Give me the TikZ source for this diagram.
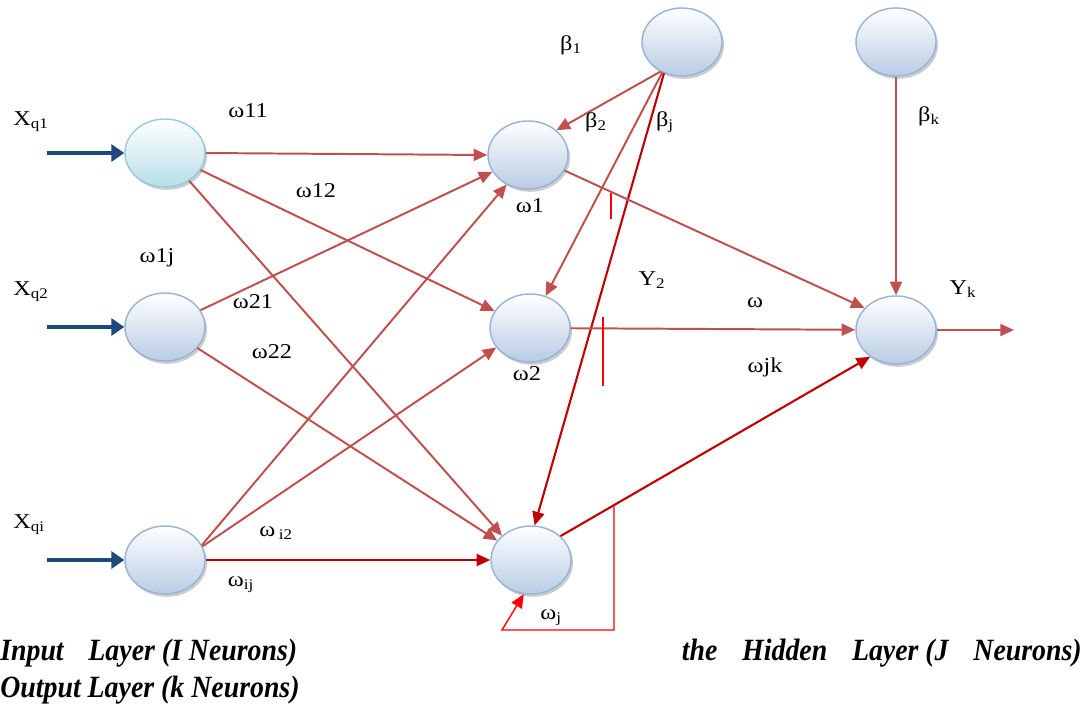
\documentclass[tikz,border=0pt]{standalone}
\usepackage{fontspec}
\setmainfont{Liberation Serif}[FakeStretch=1.15]
\newfontfamily\layerfont{Liberation Serif}[FakeStretch=0.9]
\usepackage{tikz}
\usepackage{xcolor}
\usetikzlibrary{shapes.geometric, arrows.meta, shadows}
\definecolor{nodefill}{RGB}{184,204,228}
\definecolor{nodeborder}{RGB}{149,179,215}
\definecolor{cyanfill}{RGB}{183,222,232}
\definecolor{cyanborder}{RGB}{146,205,220}
\definecolor{wred}{RGB}{192,80,77}
\definecolor{jred}{RGB}{192,0,0}
\definecolor{fbred}{RGB}{255,0,0}
\definecolor{inblue}{RGB}{31,73,125}

\begin{document}
\begin{tikzpicture}[x=0.025cm, y=-0.025cm,
    neuron/.style={ellipse, draw=nodeborder, line width=1pt, top color=white, bottom color=nodefill,
        minimum width=2cm, minimum height=1.7cm, inner sep=0pt,
        drop shadow={shadow xshift=0.05cm, shadow yshift=-0.07cm, fill=black!40}},
    inneuron/.style={neuron, draw=cyanborder, bottom color=cyanfill},
    wline/.style={color=wred, line width=1.4pt, -{Triangle[length=3.4mm, width=3mm]}},
    jline/.style={wline, color=jred, line width=1.5pt},
    fbline/.style={color=fbred, line width=1pt},
    inarrow/.style={color=inblue, line width=2.8pt, -{Triangle[length=3.2mm, width=4.2mm]}},
    lab/.style={font=\fontsize{15}{17}\selectfont, inner sep=1pt},
    layer/.style={font=\fontsize{22}{24}\layerfont\bfseries\itshape, inner sep=0pt}]
    \useasboundingbox (0,0) rectangle (1088,706);

    % Input layer
    \node[inneuron] (I1) at (165,153) {};
    \node[neuron] (I2) at (165,327) {};
    \node[neuron] (I3) at (165,560) {};

    % Hidden layer
    \node[neuron] (H1) at (528,155) {};
    \node[neuron] (H2) at (530,328) {};
    \node[neuron] (H3) at (531,560) {};

    % Bias and output
    \node[neuron] (B1) at (682,42) {};
    \node[neuron] (Bk) at (896,42) {};
    \node[neuron] (O) at (896,330) {};

    % Free ends
    \coordinate (xq1) at (47,153);
    \coordinate (xq2) at (47,327);
    \coordinate (xq3) at (47,560);
    \coordinate (yout) at (1014,330);
    \coordinate (fb1) at (614,505);
    \coordinate (fb2) at (502,630);

    % Input arrows
    \draw[inarrow] (xq1) -- (I1.west);
    \draw[inarrow] (xq2) -- (I2.west);
    \draw[inarrow] (xq3) -- (I3.west);

    % Input -> hidden
    \draw[wline] (I1.east) -- (H1.west);
    \draw[wline] (I1) -- (H2);
    \draw[wline] (I1.311) -- (H3.140);
    \draw[wline] (I2) -- (H1);
    \draw[wline] (I2.327) -- (H3.150);
    \draw[wline] (I3.22) -- (H1.234);
    \draw[wline] (I3.20) -- (H2.210);
    \draw[jline] (I3.east) -- (H3.west);

    % Bias -> hidden
    \draw[wline] (B1.234) -- (H1.41);
    \draw[wline] (B1.237) -- (H2.64);
    \draw[jline] (B1.240) -- (H3.84);

    % Hidden -> output
    \draw[wline] (H1.337) -- (O.145);
    \draw[wline] (H2) -- (O);
    \draw[jline] (H3.39) -- (O.226);
    \draw[wline] (Bk) -- (O);
    \draw[wline] (O) -- (yout);

    % Feedback loop
    \draw[fbline, -{Triangle[length=3.4mm, width=3mm]}] (fb1) |- (fb2) -- (H3.258);

    % Ticks
    \draw[fbline] (611,193) -- (611,219);
    \draw[fbline] (603,317) -- (603,386);

    % Labels
    \node[lab] (lxq1) at (31,122) {X\textsubscript{q1}};
    \node[lab] (lxq2) at (31,292) {X\textsubscript{q2}};
    \node[lab] (lxqi) at (29,525) {X\textsubscript{qi}};
    \node[lab] (lw11) at (248,111) {ω11};
    \node[lab] (lw12) at (316,191) {ω12};
    \node[lab] (lw1j) at (157,258) {ω1j};
    \node[lab] (lw21) at (253,302) {ω21};
    \node[lab] (lw22) at (272,352) {ω22};
    \node[lab] (lwi2) at (276,533) {ω\,\textsubscript{i2}};
    \node[lab] (lwij) at (241,585) {ω\textsubscript{ij}};
    \node[lab] (lb1) at (571,45) {β\textsubscript{1}};
    \node[lab] (lb2) at (596,122) {β\textsubscript{2}};
    \node[lab] (lbj) at (665,122) {β\textsubscript{j}};
    \node[lab] (lw1) at (530,206) {ω1};
    \node[lab] (lw2) at (527,374) {ω2};
    \node[lab] (ly2) at (652,280) {Y\textsubscript{2}};
    \node[lab] (lw) at (755,303) {ω};
    \node[lab] (lwjk) at (765,367) {ωjk};
    \node[lab] (lwj) at (551,618) {ω\textsubscript{j}};
    \node[lab] (lbk) at (929,116) {β\textsubscript{k}};
    \node[lab] (lyk) at (963,289) {Y\textsubscript{k}};

    % Layer names
    \node[layer, anchor=base west] (linput) at (0,660) {Input\hspace{0.8em}Layer (I Neurons)};
    \node[layer, anchor=base west] (loutput) at (0,697) {Output Layer (k Neurons)};
    \node[layer, anchor=base east] (lhidden) at (1082,660) {the\hspace{0.8em}Hidden\hspace{0.8em}Layer (J\hspace{0.8em}Neurons)};
\end{tikzpicture}
\end{document}
